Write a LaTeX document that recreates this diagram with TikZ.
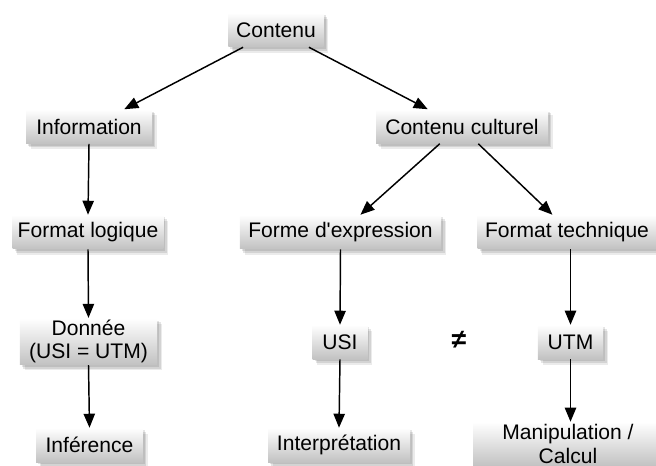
\documentclass[tikz,border=0pt]{standalone}
\usepackage{fontspec}
\setmainfont{Liberation Sans}
\usetikzlibrary{arrows.meta,shadows,calc}
\begin{document}
\begin{tikzpicture}[x=0.75pt,y=-0.75pt,
  box/.style={top color=white, bottom color=black!24, draw=none,
    inner xsep=0pt, inner ysep=0pt, minimum height=25.5pt, align=center,
    font=\fontsize{15.8}{17.3}\selectfont,
    preaction={fill=black, opacity=0.10, transform canvas={xshift=1.5pt,yshift=-1.8pt}},
    preaction={fill=black, opacity=0.10, transform canvas={xshift=2.5pt,yshift=-3pt}},
    preaction={fill=black, opacity=0.08, transform canvas={xshift=3.5pt,yshift=-4.2pt}}},
  arr/.style={line width=1.1pt, -{Triangle[length=10.5pt,width=8.5pt]}}]
\useasboundingbox (0,0) rectangle (656,466);
\node[box, minimum width=71.5pt] (contenu) at (276,30) {Contenu};
\node[box, minimum width=94.5pt] (info) at (89,126.5) {Information};
\node[box, minimum width=129pt] (cult) at (462,126.5) {Contenu culturel};
\node[box, minimum width=113pt] (logique) at (88,232) {Format logique};
\node[box, minimum width=151pt] (forme) at (340.5,232) {Forme d\textquotesingle expression};
\node[box, minimum width=134pt] (tech) at (567,232) {Format technique};
\node[box, minimum width=103pt, minimum height=35pt] (donnee) at (88.5,341.5) {Donnée\\(USI = UTM)};
\node[box, minimum width=41pt] (usi) at (340,342) {USI};
\node[box, minimum width=49pt] (utm) at (570.5,342) {UTM};
\node[font=\fontsize{20}{22}\selectfont\bfseries] (neq) at (459,340) {≠};
\node[box, minimum width=80pt] (inference) at (89.5,445) {Inférence};
\node[box, minimum width=106.5pt] (interp) at (339,445) {Interprétation};
\node[box, minimum width=142.5pt, minimum height=33pt] (manip) at (568,444) {Manipulation /\\Calcul};
\draw[arr] ($(contenu.south west)+(15,0)$) -- ($(info.north east)+(-28,0)$);
\draw[arr] ($(contenu.south east)+(-15,0)$) -- ($(cult.north west)+(52,0)$);
\draw[arr] ($(cult.south west)+(64,0)$) -- ($(forme.north east)+(-81,0)$);
\draw[arr] ($(cult.south east)+(-70,0)$) -- ($(tech.north west)+(75,0)$);
\draw[arr] (info.south) -- (logique.north);
\draw[arr] (logique.south) -- (donnee.north);
\draw[arr] (donnee.south) -- (inference.north);
\draw[arr] (forme.south) -- (usi.north);
\draw[arr] (usi.south) -- (interp.north);
\draw[arr] (tech.south -| utm.north) -- (utm.north);
\draw[arr] (utm.south) -- (manip.north -| utm.south);
\end{tikzpicture}
\end{document}
